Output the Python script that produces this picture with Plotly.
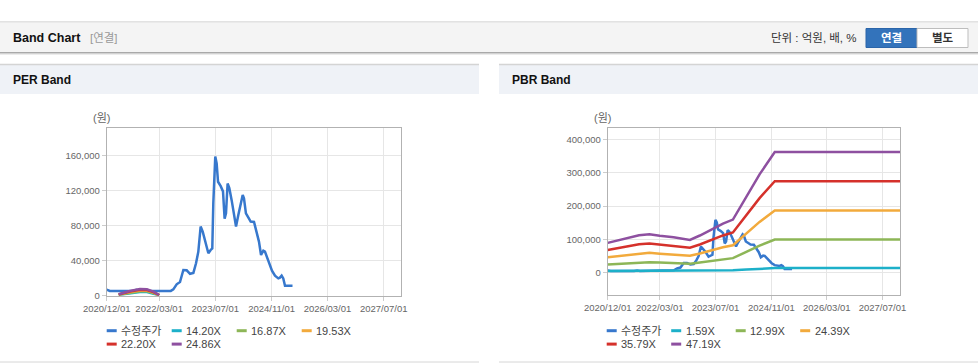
import plotly.graph_objects as go

W, H = 978, 364

# ---------------- data ----------------
price_dates = ["2020-12-01", "2020-12-28", "2021-07-20", "2021-08-15", "2021-09-10", "2022-06-10",
               "2022-07-02", "2022-07-31", "2022-08-29", "2022-09-27", "2022-10-26", "2022-11-24",
               "2022-12-23", "2023-01-15", "2023-02-04", "2023-02-24", "2023-03-14", "2023-04-03",
               "2023-05-02", "2023-05-22", "2023-06-05", "2023-06-14", "2023-06-23", "2023-07-01",
               "2023-07-13", "2023-07-25", "2023-08-17", "2023-09-06", "2023-09-20", "2023-10-02",
               "2023-10-16", "2023-10-31", "2023-11-20", "2023-12-10", "2023-12-28", "2024-01-17",
               "2024-01-31", "2024-02-24", "2024-03-06", "2024-03-23", "2024-04-16", "2024-05-03",
               "2024-06-01", "2024-06-24", "2024-07-14", "2024-08-01", "2024-08-21", "2024-09-04",
               "2024-09-24", "2024-10-18", "2024-11-04", "2024-11-30", "2024-12-29", "2025-01-12",
               "2025-01-27", "2025-02-10", "2025-02-25", "2025-05-01"]
price_vals = [7000, 5500, 5500, 6800, 5500, 5500,
              7200, 13000, 15600, 29300, 29000, 25000,
              26000, 37000, 50300, 78900, 73000, 63600,
              48400, 52200, 54000, 105500, 132000, 158900,
              151000, 130000, 125000, 119000, 88000, 94000,
              128000, 122700, 109000, 94000, 78900, 92200,
              101700, 115000, 111000, 94000, 88400, 84600,
              84200, 73000, 61700, 46500, 51400, 50300,
              42700, 33100, 28600, 22900, 19800, 20600,
              22900, 19800, 11400, 11400]

per_band_dates = ["2021-03-15", "2021-06-20", "2021-09-15", "2021-11-15", "2022-01-10", "2022-03-01"]
per_bands = {
    "14.20X": [910, 3080, 4340, 4170, 2630, 460],
    "16.87X": [1090, 3670, 5160, 4960, 3120, 540],
    "19.53X": [1260, 4240, 5970, 5740, 3610, 630],
    "22.20X": [1430, 4820, 6790, 6520, 4110, 710],
    "24.86X": [1600, 5400, 7600, 7300, 4600, 800],
}

pbr_band_dates = ["2020-12-01", "2021-05-15", "2021-09-01", "2021-12-01", "2022-03-01", "2022-06-30",
                  "2022-11-20", "2023-02-15", "2023-06-10", "2023-09-05", "2023-12-01", "2024-03-27",
                  "2024-07-21", "2024-12-01", "2027-12-01"]
pbr_bands = {
    "1.59X": [5000, 5500, 5800, 5900, 5700, 5600, 5300, 5800, 6500, 7000, 7400, 9700, 11900, 14000, 14000],
    "12.99X": [24700, 28300, 31000, 31800, 30500, 29400, 27200, 30800, 36500, 40600, 43900, 62600, 81200, 99700, 99700],
    "24.39X": [46400, 53100, 58200, 59700, 57200, 55100, 51000, 57700, 68600, 76300, 82400, 117500, 152500, 187100, 187100],
    "35.79X": [68000, 77900, 85500, 87700, 84000, 80900, 74900, 84700, 100600, 111900, 121000, 172400, 223800, 274500, 274500],
    "47.19X": [89700, 102700, 112700, 115600, 110700, 106700, 98700, 111700, 132600, 147600, 159500, 227300, 295100, 362000, 362000],
}

x_tickvals = ["2020-12-01", "2022-03-01", "2023-07-01", "2024-11-01", "2026-03-01", "2027-07-01"]
x_ticktext = ["2020/12/01", "2022/03/01", "2023/07/01", "2024/11/01", "2026/03/01", "2027/07/01"]
per_yticks = [0, 40000, 80000, 120000, 160000]
pbr_yticks = [0, 100000, 200000, 300000, 400000]

price_name = "수정주가"
price_color = "#3778cd"
band_colors = ["#1db0c9", "#8db657", "#f2aa3c", "#d5312b", "#8e50a0"]

FONT = "Arial, 'Liberation Sans', 'Noto Sans CJK KR', sans-serif"


def px(x):
    return x / W


def py(y):
    return 1 - y / H


fig = go.Figure()

# PER chart
fig.add_trace(go.Scatter(x=price_dates, y=price_vals, mode="lines", name=price_name,
                         line=dict(color=price_color, width=2.5), xaxis="x", yaxis="y",
                         showlegend=False, hoverinfo="skip"))
for (name, vals), c in zip(per_bands.items(), band_colors):
    fig.add_trace(go.Scatter(x=per_band_dates, y=vals, mode="lines", name=name,
                             line=dict(color=c, width=2.5), xaxis="x", yaxis="y",
                             showlegend=False, hoverinfo="skip"))

# PBR chart
fig.add_trace(go.Scatter(x=price_dates, y=price_vals, mode="lines", name=price_name,
                         line=dict(color=price_color, width=2.5), xaxis="x2", yaxis="y2",
                         showlegend=False, hoverinfo="skip"))
for (name, vals), c in zip(pbr_bands.items(), band_colors):
    fig.add_trace(go.Scatter(x=pbr_band_dates, y=vals, mode="lines", name=name,
                             line=dict(color=c, width=2.5), xaxis="x2", yaxis="y2",
                             showlegend=False, hoverinfo="skip"))

xax = dict(type="date", range=["2020-12-01", "2027-12-01"], tickvals=x_tickvals, ticktext=x_ticktext,
           tickangle=0, automargin=False, showgrid=True, gridcolor="#e6e6e6", gridwidth=1,
           showline=True, mirror=True, linecolor="#b2b2b2", linewidth=1, ticks="outside", ticklen=4,
           tickcolor="#cccccc", tickfont=dict(size=9.5, color="#666666"), zeroline=False, fixedrange=True)
yax_common = dict(automargin=False, showgrid=True, gridcolor="#e6e6e6", gridwidth=1, showline=True,
                  mirror=True, linecolor="#b2b2b2", linewidth=1, ticks="outside", ticklen=4,
                  tickcolor="#cccccc", tickfont=dict(size=9.5, color="#666666"), zeroline=False,
                  fixedrange=True)

fig.update_layout(
    width=W, height=H,
    autosize=False,
    margin=dict(l=0, r=0, t=0, b=0, pad=0, autoexpand=False),
    paper_bgcolor="#ffffff", plot_bgcolor="#ffffff",
    font=dict(family=FONT, size=11, color="#333333"),
    showlegend=False,
    hovermode=False,
    xaxis=dict(xax, domain=[px(106.7), px(401.3)], anchor="y"),
    yaxis=dict(yax_common, domain=[py(295.7), py(128.3)], anchor="x", range=[0, 191000],
               tickvals=per_yticks, ticktext=[f"{v:,}" for v in per_yticks]),
    xaxis2=dict(xax, domain=[px(607.7), px(900)], anchor="y2"),
    yaxis2=dict(yax_common, domain=[py(295), py(128.3)], anchor="x2", range=[-66700, 433300],
                tickvals=pbr_yticks, ticktext=[f"{v:,}" for v in pbr_yticks]),
)

shapes = []
ann = []


def rect(x0, y0, x1, y1, fill, line=None, lw=0):
    shapes.append(dict(type="rect", xref="paper", yref="paper", x0=px(x0), x1=px(x1), y0=py(y1), y1=py(y0),
                       fillcolor=fill, line=dict(color=line or fill, width=lw), layer="below"))


def hline(x0, x1, y, color, w=1):
    shapes.append(dict(type="line", xref="paper", yref="paper", x0=px(x0), x1=px(x1), y0=py(y), y1=py(y),
                       line=dict(color=color, width=w), layer="below"))


def text(x, y, s, size=11, color="#333333", anchor="left", bold=False):
    ann.append(dict(xref="paper", yref="paper", x=px(x), y=py(y), text=f"<b>{s}</b>" if bold else s,
                    showarrow=False, xanchor=anchor, yanchor="middle",
                    font=dict(size=size, color=color, family=FONT)))


# header bar
hline(0, W, 22, "#c4c4c4", 1)
rect(0, 22.5, W, 52, "#f4f4f4")
hline(0, W, 52.5, "#a9a9a9", 1)
hline(0, W, 53.5, "#d2d2d2", 1)
hline(0, W, 54.5, "#ececec", 1)
text(11, 38, "Band Chart", size=12.5, color="#111111", bold=True)
text(88, 38, "[연결]", size=11.5, color="#999999")
text(859, 38, "단위 : 억원, 배, %", size=11.5, color="#333333", anchor="right")
rect(866, 28.5, 917, 47.5, "#3373bb", "#2b65a9", 1)
rect(917, 28.5, 968, 47.5, "#ffffff", "#bdbdbd", 1)
text(891.5, 38, "연결", size=11.5, color="#ffffff", anchor="center", bold=True)
text(942.5, 38, "별도", size=11.5, color="#333333", anchor="center", bold=True)

# panel headers
for x0, x1, title in [(0, 479, "PER Band"), (499, W, "PBR Band")]:
    rect(x0, 64, x1, 94, "#eff2f7")
    hline(x0, x1, 64.5, "#d4d4d4", 1.5)
    hline(x0, x1, 362, "#d6d6d6", 1)
    text(x0 + 11, 80, title, size=12, color="#111111", bold=True)

# unit labels
text(101.7, 118, "(원)", size=11, color="#666666", anchor="center")
text(602, 118, "(원)", size=11, color="#666666", anchor="center")

# legends
legend_names_per = [price_name] + list(per_bands.keys())
legend_names_pbr = [price_name] + list(pbr_bands.keys())
colors_all = [price_color] + band_colors
for names, x_start, step in [(legend_names_per, 106.7, 65), (legend_names_pbr, 606.7, 64.5)]:
    for i, (nm, c) in enumerate(zip(names, colors_all)):
        col, row = i % 4, i // 4
        lx = x_start + col * step
        ly = 330.7 + row * 13.4
        shapes.append(dict(type="line", xref="paper", yref="paper", x0=px(lx), x1=px(lx + 10),
                           y0=py(ly), y1=py(ly), line=dict(color=c, width=3)))
        text(lx + 12.5, ly, nm, size=11, color="#444444")

fig.update_layout(shapes=shapes, annotations=ann)
fig.write_html("out.html", config={"displayModeBar": False},
               post_script="document.body.style.margin='0';document.body.style.padding='0';")
